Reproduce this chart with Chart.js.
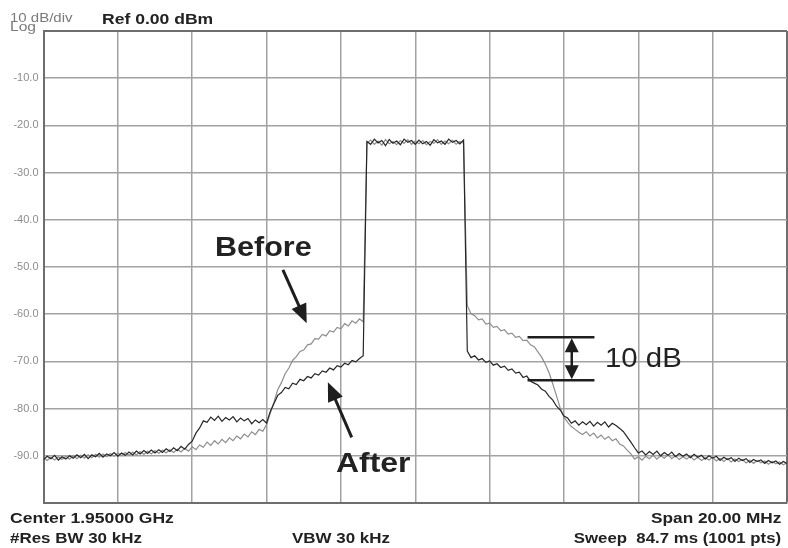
<!DOCTYPE html>
<html>
<head>
<meta charset="utf-8">
<script src="https://cdn.jsdelivr.net/npm/chart.js@4.4.1/dist/chart.umd.min.js"></script>
<style>
  body { margin: 0; background: #fff; }
  #wrap { position: relative; width: 788px; height: 548px; overflow: hidden; font-family: "Liberation Sans", Arial, sans-serif; }
  #spectrum { position: absolute; left: 0; top: 0; }
  .lbl { position: absolute; white-space: pre; line-height: 1; color: #222; transform-origin: left top; }
  .r { transform-origin: right top; }
  .b { font-weight: bold; }
  .g { color: #7a7a7a; }
</style>
</head>
<body>
<div id="wrap">
  <canvas id="spectrum" width="788" height="548"></canvas>
  <div class="lbl g" style="left:10px;top:12px;font-size:12px;transform:scaleX(1.25)">10 dB/div</div>
  <div class="lbl g" style="left:10px;top:21px;font-size:12px;transform:scaleX(1.3)">Log</div>
  <div class="lbl b" style="left:102px;top:11px;font-size:15px;transform:scaleX(1.17)">Ref 0.00 dBm</div>

  <div class="lbl b" style="left:10px;top:510px;font-size:15px;transform:scaleX(1.17)">Center 1.95000 GHz</div>
  <div class="lbl b" style="left:10px;top:530px;font-size:15px;transform:scaleX(1.13)">#Res BW 30 kHz</div>
  <div class="lbl b" style="left:292px;top:530px;font-size:15px;transform:scaleX(1.13)">VBW 30 kHz</div>
  <div class="lbl b r" style="right:7px;top:510px;font-size:15px;transform:scaleX(1.15)">Span 20.00 MHz</div>
  <div class="lbl b r" style="right:7px;top:530px;font-size:15px;transform:scaleX(1.12)">Sweep  84.7 ms (1001 pts)</div>

  <div class="lbl b" style="left:215px;top:234px;font-size:27px;transform:scaleX(1.13)">Before</div>
  <div class="lbl b" style="left:336px;top:449px;font-size:28px;transform:scaleX(1.14)">After</div>
  <div class="lbl" style="left:605px;top:344px;font-size:28px;transform:scaleX(1.05)">10 dB</div>
</div>
<script>
// sweep points, MHz offset from center (1.95 GHz), span 20 MHz
const freqMHz = [
  -10.0,-9.9,-9.8,-9.7,-9.6,-9.5,-9.4,-9.3,-9.2,-9.1,
  -9.0,-8.9,-8.8,-8.7,-8.6,-8.5,-8.4,-8.3,-8.2,-8.1,
  -8.0,-7.9,-7.8,-7.7,-7.6,-7.5,-7.4,-7.3,-7.2,-7.1,
  -7.0,-6.9,-6.8,-6.7,-6.6,-6.5,-6.4,-6.3,-6.2,-6.1,
  -6.0,-5.9,-5.8,-5.7,-5.6,-5.5,-5.4,-5.3,-5.2,-5.1,
  -5.0,-4.9,-4.8,-4.7,-4.6,-4.5,-4.4,-4.3,-4.2,-4.1,
  -4.0,-3.9,-3.8,-3.7,-3.6,-3.5,-3.4,-3.3,-3.2,-3.1,
  -3.0,-2.9,-2.8,-2.7,-2.6,-2.5,-2.4,-2.3,-2.2,-2.1,
  -2.0,-1.9,-1.8,-1.7,-1.6,-1.5,-1.4,-1.3,-1.2,-1.1,
  -1.0,-0.9,-0.8,-0.7,-0.6,-0.5,-0.4,-0.3,-0.2,-0.1,
  0.0,0.1,0.2,0.3,0.4,0.5,0.6,0.7,0.8,0.9,
  1.0,1.1,1.2,1.3,1.4,1.5,1.6,1.7,1.8,1.9,
  2.0,2.1,2.2,2.3,2.4,2.5,2.6,2.7,2.8,2.9,
  3.0,3.1,3.2,3.3,3.4,3.5,3.6,3.7,3.8,3.9,
  4.0,4.1,4.2,4.3,4.4,4.5,4.6,4.7,4.8,4.9,
  5.0,5.1,5.2,5.3,5.4,5.5,5.6,5.7,5.8,5.9,
  6.0,6.1,6.2,6.3,6.4,6.5,6.6,6.7,6.8,6.9,
  7.0,7.1,7.2,7.3,7.4,7.5,7.6,7.7,7.8,7.9,
  8.0,8.1,8.2,8.3,8.4,8.5,8.6,8.7,8.8,8.9,
  9.0,9.1,9.2,9.3,9.4,9.5,9.6,9.7,9.8,9.9,
  10.0];

// dBm, trace after linearization (dark)
const afterDbm = [
  -90.8,-90.1,-90.6,-89.9,-90.9,-90.2,-90.7,-90.0,-90.5,-89.8,
  -90.4,-89.7,-90.6,-89.8,-90.2,-89.5,-90.3,-89.6,-90.0,-89.3,
  -90.1,-89.4,-89.9,-89.2,-89.8,-89.0,-89.6,-88.9,-89.5,-88.8,
  -89.4,-88.7,-89.3,-88.5,-89.1,-88.3,-88.9,-88.0,-88.6,-87.6,
  -86.9,-85.2,-84.1,-82.6,-82.9,-81.8,-82.5,-81.6,-82.7,-81.9,
  -82.4,-81.7,-82.8,-82.0,-82.6,-82.1,-83.2,-82.4,-83.0,-82.3,
  -83.1,-80.6,-78.9,-77.2,-76.6,-75.5,-75.8,-74.6,-74.9,-73.8,
  -74.1,-73.2,-73.5,-72.6,-72.9,-72.0,-72.3,-71.4,-71.8,-70.9,
  -71.2,-70.4,-70.7,-69.8,-70.1,-69.4,-68.8,-23.4,-24.0,-22.9,
  -23.7,-23.2,-24.3,-23.0,-23.8,-23.3,-24.1,-22.9,-23.6,-23.2,
  -24.0,-23.1,-23.9,-23.4,-24.2,-23.0,-23.7,-23.3,-24.0,-22.9,
  -23.6,-23.2,-23.9,-23.1,-67.8,-69.2,-68.8,-69.7,-69.4,-70.2,
  -69.9,-70.8,-70.5,-71.3,-71.0,-71.9,-71.6,-72.5,-72.3,-73.4,
  -73.1,-74.2,-74.6,-75.0,-75.9,-76.3,-77.4,-78.2,-79.5,-80.3,
  -81.6,-82.0,-83.1,-82.6,-83.5,-82.8,-83.4,-82.7,-83.7,-82.9,
  -83.5,-82.8,-83.9,-83.1,-83.6,-84.2,-84.9,-86.0,-87.1,-88.3,
  -89.4,-89.0,-89.8,-89.1,-89.7,-89.0,-90.0,-89.3,-89.9,-89.2,
  -90.2,-89.5,-90.1,-89.6,-90.4,-89.7,-90.3,-89.9,-90.7,-90.0,
  -90.5,-90.1,-91.0,-90.3,-90.8,-90.4,-91.2,-90.5,-91.0,-90.6,
  -91.4,-90.8,-91.2,-90.9,-91.6,-91.0,-91.5,-91.1,-91.8,-91.2,
  -91.6];

// dBm, trace before (light)
const beforeDbm = [
  -90.4,-91.0,-90.3,-90.9,-90.2,-90.8,-90.1,-90.7,-90.0,-90.6,
  -89.9,-90.5,-89.8,-90.4,-89.7,-90.3,-89.6,-90.2,-89.5,-90.1,
  -89.4,-90.0,-89.3,-89.9,-89.2,-89.8,-89.1,-89.7,-89.0,-89.6,
  -88.9,-89.5,-88.8,-89.4,-88.7,-89.3,-88.6,-89.2,-88.4,-89.0,
  -88.1,-88.7,-87.7,-88.2,-87.1,-87.8,-86.8,-87.5,-86.5,-87.2,
  -86.2,-86.8,-85.8,-86.4,-85.4,-86.0,-84.9,-85.5,-84.4,-84.8,
  -83.4,-81.0,-78.6,-76.0,-74.5,-72.6,-71.4,-69.8,-69.0,-67.9,
  -67.6,-66.5,-66.3,-65.2,-65.3,-64.3,-64.6,-63.5,-63.8,-62.8,
  -63.1,-62.0,-62.5,-61.4,-61.9,-61.0,-61.6,-23.8,-23.1,-24.0,
  -23.3,-24.2,-23.0,-23.9,-23.4,-24.1,-23.2,-23.8,-23.0,-24.0,
  -23.3,-23.9,-23.2,-24.1,-23.4,-23.8,-23.0,-24.0,-23.3,-23.9,
  -23.1,-24.0,-23.4,-23.8,-58.2,-59.9,-60.3,-61.2,-61.0,-62.1,
  -61.9,-62.8,-62.6,-63.5,-63.3,-64.2,-64.0,-64.9,-64.7,-65.6,
  -65.5,-66.5,-66.9,-68.0,-69.1,-70.6,-72.4,-74.8,-77.3,-79.9,
  -81.8,-82.9,-83.8,-84.4,-85.0,-85.5,-84.9,-85.8,-85.2,-86.2,
  -85.6,-86.5,-85.9,-86.8,-86.4,-87.5,-87.9,-88.8,-89.6,-90.7,
  -90.2,-90.9,-90.1,-90.6,-89.9,-90.7,-90.0,-90.5,-89.8,-90.6,
  -90.0,-90.8,-90.2,-90.7,-90.1,-90.9,-90.3,-91.0,-90.4,-90.9,
  -90.3,-91.1,-90.5,-91.2,-90.6,-91.3,-90.7,-91.2,-90.8,-91.5,
  -90.9,-91.6,-91.0,-91.5,-91.1,-91.8,-91.2,-91.7,-91.3,-91.9,
  -91.5];

const yTicks = [0,-10,-20,-30,-40,-50,-60,-70,-80,-90,-100];

// annotation anchors in data units (MHz, dBm)
const arrowMarks = [
  { from: [-3.56, -50.6], to: [-2.92, -61.9] },
  { from: [-1.71, -86.1], to: [-2.35, -74.4] }
];
const deltaMark = { x1: 3.02, x2: 4.82, xa: 4.21, hi: -64.9, lo: -74.0 };

function toPts(ys) {
  return freqMHz.map((f, i) => ({ x: f, y: ys[i] }));
}

function head(ctx, x0, y0, x1, y1, len, half) {
  const a = Math.atan2(y1 - y0, x1 - x0);
  ctx.beginPath();
  ctx.moveTo(x1, y1);
  ctx.lineTo(x1 - len * Math.cos(a) + half * Math.sin(a), y1 - len * Math.sin(a) - half * Math.cos(a));
  ctx.lineTo(x1 - len * Math.cos(a) - half * Math.sin(a), y1 - len * Math.sin(a) + half * Math.cos(a));
  ctx.closePath();
  ctx.fill();
}

const marks = {
  id: 'marks',
  afterDatasetsDraw(chart) {
    const { ctx, scales: { x, y } } = chart;
    ctx.save();
    ctx.strokeStyle = '#1e1e1e';
    ctx.fillStyle = '#1e1e1e';
    ctx.lineWidth = 3;
    arrowMarks.forEach(m => {
      const x0 = x.getPixelForValue(m.from[0]), y0 = y.getPixelForValue(m.from[1]);
      const x1 = x.getPixelForValue(m.to[0]), y1 = y.getPixelForValue(m.to[1]);
      const a = Math.atan2(y1 - y0, x1 - x0);
      ctx.beginPath();
      ctx.moveTo(x0, y0);
      ctx.lineTo(x1 - 14 * Math.cos(a), y1 - 14 * Math.sin(a));
      ctx.stroke();
      head(ctx, x0, y0, x1, y1, 19, 8);
    });
    const xl = x.getPixelForValue(deltaMark.x1), xr = x.getPixelForValue(deltaMark.x2);
    const xa = x.getPixelForValue(deltaMark.xa);
    const yh = y.getPixelForValue(deltaMark.hi), yl = y.getPixelForValue(deltaMark.lo);
    ctx.lineWidth = 2.5;
    ctx.beginPath();
    ctx.moveTo(xl, yh); ctx.lineTo(xr, yh);
    ctx.moveTo(xl, yl); ctx.lineTo(xr, yl);
    ctx.moveTo(xa, yh + 10); ctx.lineTo(xa, yl - 10);
    ctx.stroke();
    head(ctx, xa, yl, xa, yh + 1, 14, 7);
    head(ctx, xa, yh, xa, yl - 1, 14, 7);
    ctx.restore();
  }
};

const edgeGrid = (edge) => (c) => (c.tick && c.tick.value === edge ? '#6e6e6e' : '#a2a2a2');
const edgeWidth = (edge) => (c) => (c.tick && c.tick.value === edge ? 2 : 1.5);

new Chart(document.getElementById('spectrum'), {
  type: 'line',
  data: {
    datasets: [
      { label: 'After', data: toPts(afterDbm), borderColor: '#262626', borderWidth: 1.2, pointRadius: 0, tension: 0 },
      { label: 'Before', data: toPts(beforeDbm), borderColor: '#8e8e8e', borderWidth: 1.2, pointRadius: 0, tension: 0 }
    ]
  },
  options: {
    responsive: false,
    animation: false,
    devicePixelRatio: 1,
    layout: { padding: { top: 31, right: 1, bottom: 45, left: 0 } },
    plugins: { legend: { display: false }, tooltip: { enabled: false } },
    scales: {
      x: {
        type: 'linear', min: -10, max: 10,
        ticks: { display: false, stepSize: 2 },
        grid: { color: edgeGrid(10), lineWidth: edgeWidth(10), drawTicks: false },
        border: { color: '#6e6e6e', width: 2 },
        afterFit: s => { s.height = 0; }
      },
      y: {
        min: -100, max: 0,
        afterBuildTicks: s => { s.ticks = yTicks.map(v => ({ value: v })); },
        ticks: {
          padding: 5,
          color: '#8c8c8c',
          font: { family: 'Liberation Sans', size: 11 },
          callback: v => (v === 0 || v === -100) ? '' : v.toFixed(1)
        },
        grid: { color: edgeGrid(0), lineWidth: edgeWidth(0), drawTicks: false },
        border: { color: '#6e6e6e', width: 2 },
        afterFit: s => { s.width = 43.5; }
      }
    }
  },
  plugins: [marks]
});
</script>
</body>
</html>
